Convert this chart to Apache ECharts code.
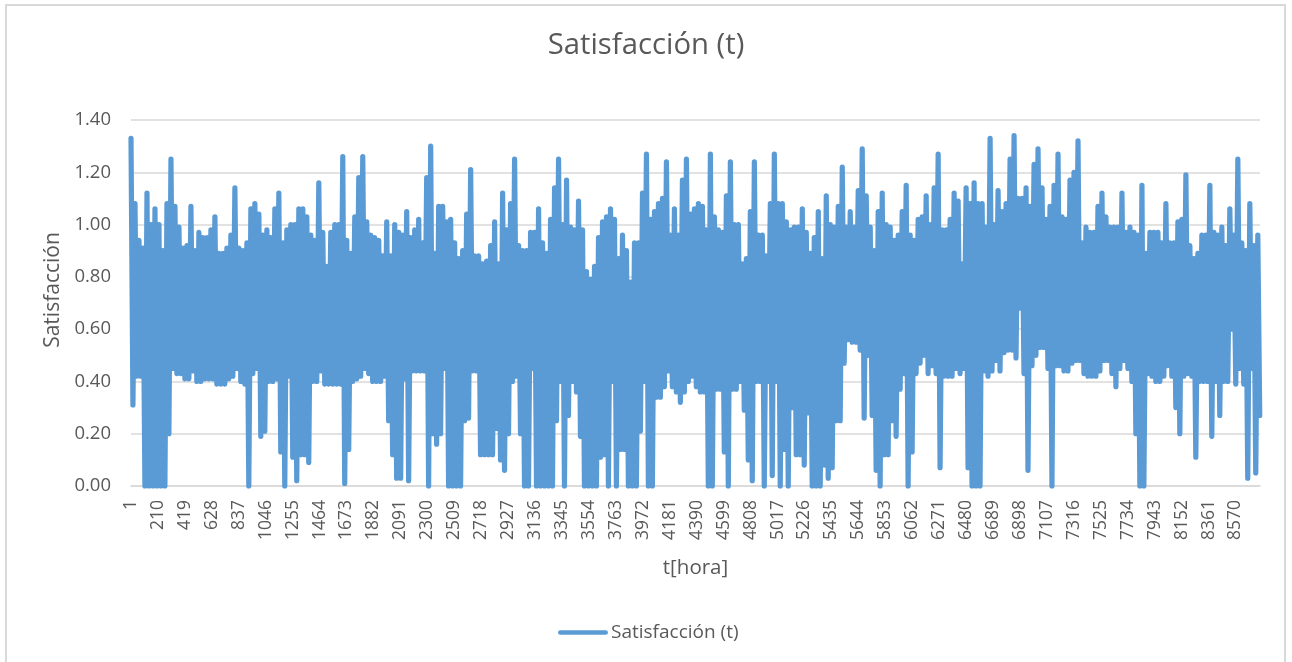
<!DOCTYPE html>
<html><head><meta charset="utf-8"><title>Satisfacción (t)</title>
<script src="https://cdn.jsdelivr.net/npm/echarts@6/dist/echarts.min.js"></script>
<style>html,body{margin:0;padding:0;background:#fff}#c{width:1292px;height:662px}</style></head>
<body><div id="c"></div>
<script>
const chartTitle = 'Satisfacción (t)';
const seriesName = 'Satisfacción (t)';
const xTitle = 't[hora]';
const yTitle = 'Satisfacción';
const yTicks = [0, 0.2, 0.4, 0.6, 0.8, 1.0, 1.2, 1.4];
const totalHours = 8760;
const sampleStep = 31;
const halfStep = 15;
const labelStep = 209;
// upper envelope, read every 31 hours
const highs = [
1.33,1.08,.94,.91,1.12,1.00,1.06,1.00,.90,1.08,1.25,1.07,.99,.91,.92,1.07,.90,.97,.95,.95,
.98,1.03,.89,.89,.91,.96,1.14,.91,.90,.93,1.06,1.08,1.04,.96,.98,.95,1.06,1.12,.93,.98,
1.00,1.00,1.06,1.06,1.03,.96,.94,1.16,.97,.84,.97,1.00,1.00,1.26,.94,.89,1.03,1.18,1.26,1.01,
.96,.95,.94,.88,1.01,.88,1.00,.97,.96,1.05,.95,.98,1.02,.93,1.18,1.30,.89,1.07,1.07,1.01,
1.02,.93,.87,.90,1.04,1.21,.88,.88,.85,.86,.92,1.01,.85,1.12,.98,1.08,1.25,.92,.90,.90,
.97,.97,1.06,.93,.89,1.02,1.14,1.25,1.00,1.17,.99,.98,1.09,.98,.82,.79,.84,.95,1.01,1.03,
1.06,1.02,.87,.96,.90,.78,.93,.93,1.12,1.27,1.02,1.05,1.08,1.10,1.24,.96,1.06,.96,1.17,1.25,
1.04,1.06,1.08,1.07,.98,1.27,1.03,.98,.97,1.11,1.24,1.00,1.00,.85,.87,1.05,1.24,.96,.96,.88,
1.08,1.27,1.08,1.08,1.01,.98,.99,.99,1.06,.97,.89,.95,1.05,.87,1.11,1.00,.99,1.07,1.22,.99,
1.05,.99,1.13,1.29,1.11,.99,.90,1.05,1.12,1.00,.99,.94,.96,1.05,1.15,.96,.94,1.02,1.03,1.11,
1.00,1.14,1.27,.98,.98,1.02,1.12,1.09,.85,1.14,1.08,1.16,1.08,1.08,.99,1.33,1.00,1.13,1.05,1.08,
1.25,1.34,1.10,1.10,1.14,1.07,1.23,1.29,1.14,1.02,1.07,1.15,1.27,1.03,1.02,1.17,1.20,1.32,.93,.99,
.97,.97,1.07,1.12,1.03,.99,.99,.99,1.12,.97,.99,.97,.96,1.15,.89,.97,.97,.97,.93,1.08,
.93,.93,1.01,1.02,1.19,.92,.87,.89,.96,.96,1.15,.97,.96,.99,.92,1.06,.96,1.25,.93,.90,
1.08,.92,.96];
// lower envelope, read every 31 hours
const lows = [
.31,.42,.42,0,0,0,0,0,0,.20,.45,.43,.43,.41,.41,.44,.40,.40,.41,.41,
.41,.39,.39,.39,.41,.42,.45,.40,.39,0,.43,.45,.19,.21,.40,.40,.41,.13,0,.42,
.11,.02,.12,.12,.09,.40,.40,.44,.39,.39,.39,.39,.39,.01,.14,.40,.41,.42,.45,.43,
.40,.40,.40,.42,.25,.12,.03,.03,.41,.02,.44,.44,.44,.44,0,.20,.16,.20,.45,0,
0,0,0,.25,.26,.44,.44,.12,.12,.12,.12,.22,.10,.06,.20,.40,.42,.20,0,0,
.45,0,0,0,0,0,.25,.40,0,.27,.40,.36,.19,0,0,0,0,.11,.12,0,
.40,0,.14,.14,0,0,0,.21,.40,0,0,.34,.34,.38,.44,.38,.36,.32,.36,.40,
.42,.38,.36,.36,0,0,.37,.37,.13,0,.37,.37,.40,.29,.10,.02,.40,.40,0,.40,
.04,.40,0,.14,0,.30,.12,.12,.08,.28,0,0,0,.08,.03,.07,.25,.25,.47,.56,
.55,.55,.52,.26,.50,.27,.06,0,.12,.12,.25,.19,.37,.43,0,.13,.43,.47,.50,.43,
.46,.43,.07,.42,.42,.42,.45,.43,.45,.07,0,0,0,.44,.42,.44,.48,.44,.51,.52,
.52,.49,.68,.43,.06,.46,.50,.53,.53,.45,0,.46,.46,.44,.44,.47,.48,.48,.43,.42,
.42,.42,.44,.48,.48,.43,.38,.45,.48,.45,.40,.20,0,0,.43,.42,.40,.40,.42,.46,
.42,.30,.20,.42,.43,.42,.11,.40,.40,.40,.19,.40,.27,.40,.40,.60,.39,.45,.39,.03,
.45,.05,.27];

const categories = [];
for (let h = 1; h <= totalHours; h++) categories.push(String(h));
const points = [];
highs.forEach((v, i) => {
  points.push([i * sampleStep, v]);
  points.push([i * sampleStep + halfStep, lows[i]]);
});

const textColor = '#595959';
const fontFamily = '"Open Sans", "Noto Sans", sans-serif';
const chart = echarts.init(document.getElementById('c'), null, {renderer: 'canvas'});
chart.setOption({
  animation: false,
  backgroundColor: '#ffffff',
  textStyle: {fontFamily},
  title: {text: chartTitle, left: 'center', top: 26,
    textStyle: {color: textColor, fontSize: 29.3, fontWeight: 'normal', fontFamily}},
  legend: {show: true, left: 553, top: 618, itemWidth: 50, itemHeight: 14, itemGap: 4,
    data: [{name: seriesName, icon: 'path://M2,0 H98 A2,2 0 0 1 98,10 H2 A2,2 0 0 1 2,0 Z'}],
    textStyle: {color: textColor, fontSize: 19, fontFamily, padding: [0, 0, 0, -2]}},
  grid: {left: 131, right: 32, top: 120, bottom: 176, containLabel: false},
  xAxis: {type: 'category', data: categories, boundaryGap: false,
    name: xTitle, nameLocation: 'middle', nameGap: 72,
    nameTextStyle: {color: textColor, fontSize: 20.5, fontFamily},
    axisLine: {lineStyle: {color: '#d9d9d9', width: 1.5}},
    axisTick: {show: false},
    axisLabel: {interval: labelStep - 1, rotate: 90, color: textColor, fontSize: 17.5, margin: 14, fontFamily},
    splitLine: {show: false}},
  yAxis: {type: 'value', min: yTicks[0], max: yTicks[yTicks.length - 1], interval: 0.2,
    name: yTitle, nameLocation: 'middle', nameGap: 67, nameRotate: 90,
    nameTextStyle: {color: textColor, fontSize: 21, fontFamily, padding: [0, 0, 0, 26]},
    axisLine: {show: false}, axisTick: {show: false},
    axisLabel: {color: textColor, fontSize: 18.5, margin: 20, fontFamily,
      formatter: v => v.toFixed(2)},
    splitLine: {lineStyle: {color: '#d9d9d9', width: 1.5}}},
  series: [{name: seriesName, type: 'line', data: points, showSymbol: false, symbol: 'none',
    clip: false, sampling: null, smooth: false,
    itemStyle: {color: '#5b9bd5'},
    lineStyle: {color: '#5b9bd5', width: 5.2, cap: 'round', join: 'round'}}],
  graphic: [{type: 'rect', silent: true, z: -1,
    shape: {x: 6, y: 5, width: 1279, height: 662},
    style: {fill: 'none', stroke: '#d9d9d9', lineWidth: 2}}]
});
</script></body></html>
